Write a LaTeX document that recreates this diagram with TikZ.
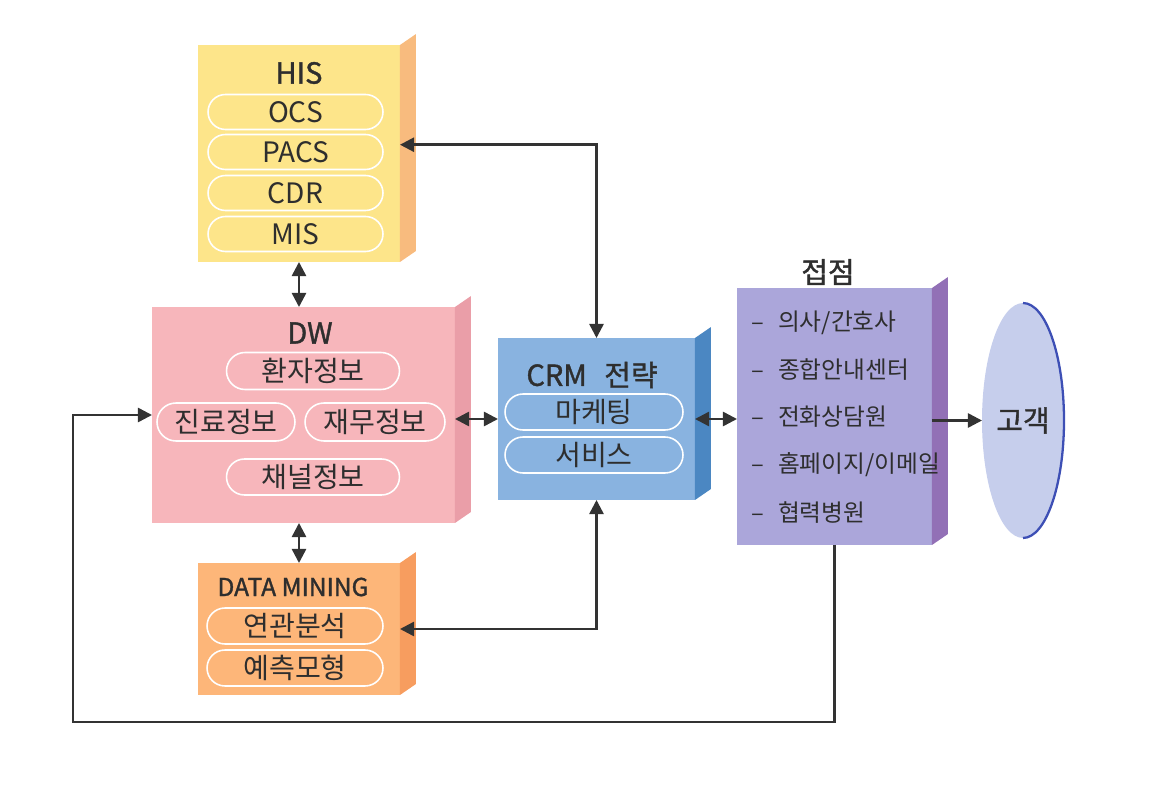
\documentclass[tikz,border=0pt]{standalone}
\usepackage{fontspec}
\setmainfont{Noto Sans CJK KR}
\newfontfamily\titlefont[FakeBold=1.3]{Noto Sans CJK KR}
\usetikzlibrary{arrows.meta,positioning,shapes.misc,shapes.geometric}
\definecolor{txt}{HTML}{2E2E2E}
\definecolor{linkgray}{HTML}{333333}
\definecolor{hisfront}{HTML}{FDE58A}
\definecolor{hisside}{HTML}{F8BB7E}
\definecolor{dwfront}{HTML}{F7B6BB}
\definecolor{dwside}{HTML}{EA9EA8}
\definecolor{dmfront}{HTML}{FDB679}
\definecolor{dmside}{HTML}{F79D5F}
\definecolor{crmfront}{HTML}{89B3E0}
\definecolor{crmside}{HTML}{4B87C2}
\definecolor{ctfront}{HTML}{ABA6DA}
\definecolor{ctside}{HTML}{9270B6}
\definecolor{custfill}{HTML}{C6CEEC}
\definecolor{custrim}{HTML}{3D4FB5}
\newcommand{\sideface}[2]{%
  \fill[#2] (#1.north east) -- ++(16,-11) -- ([shift={(16,-11)}]#1.south east) -- (#1.south east) -- cycle;}
\begin{document}
\begin{tikzpicture}[x=0.02cm,y=-0.02cm,
  every node/.style={text=txt, font=\fontsize{16}{18}\selectfont},
  block/.style={inner sep=0, outer sep=0},
  pill/.style={rounded rectangle, draw=white, line width=0.9pt, minimum height=0.7cm, inner sep=0},
  title/.style={font=\titlefont\fontsize{16.5}{19}\selectfont},
  item/.style={anchor=west, font=\fontsize{13.5}{16}\selectfont},
  link/.style={draw=linkgray, line width=1.4pt},
  both/.style={link, {Triangle[length=8pt,width=8pt]}-{Triangle[length=8pt,width=8pt]}},
  onearrow/.style={link, -{Triangle[length=8pt,width=8pt]}}]
\useasboundingbox (0,0) rectangle (1158,786);

\node[block, fill=hisfront, minimum width=4.04cm, minimum height=4.34cm] (his) at (299,153.5) {};
\node[block, fill=dwfront, minimum width=6.06cm, minimum height=4.32cm] (dw) at (303.5,415) {};
\node[block, fill=dmfront, minimum width=4.04cm, minimum height=2.64cm] (dm) at (299,629) {};
\node[block, fill=crmfront, minimum width=3.94cm, minimum height=3.24cm] (crm) at (596.5,419) {};
\node[block, fill=ctfront, minimum width=3.9cm, minimum height=5.14cm] (contact) at (834.5,416.5) {};
\sideface{his}{hisside}
\sideface{dw}{dwside}
\sideface{dm}{dmside}
\sideface{crm}{crmside}
\sideface{contact}{ctside}
\node[ellipse, fill=custfill, inner sep=0, outer sep=0, minimum width=1.64cm, minimum height=4.7cm] (cust) at (1023,420.5) {};
\draw[custrim, line width=1.3pt] (cust.north) arc[start angle=90, end angle=-90, x radius=0.82cm, y radius=2.35cm];
\node[title] (custlabel) at (cust.center) {고객};

\node[title] (histitle) at (299,73) {HIS};
\node[pill, minimum width=3.5cm] (ocs) at (295.5,112) {OCS};
\node[pill, minimum width=3.5cm] (pacs) at (295.5,152) {PACS};
\node[pill, minimum width=3.5cm] (cdr) at (295.5,193) {CDR};
\node[pill, minimum width=3.5cm] (mis) at (295.5,234) {MIS};

\node[title] (dwtitle) at (310,333) {DW};
\node[pill, minimum width=3.46cm, minimum height=0.74cm] (patient) at (313,371) {환자정보};
\node[pill, minimum width=2.76cm, minimum height=0.76cm] (care) at (226,422) {진료정보};
\node[pill, minimum width=2.8cm, minimum height=0.76cm] (finance) at (375,422) {재무정보};
\node[pill, minimum width=3.46cm, minimum height=0.72cm] (channel) at (313,477) {채널정보};

\node[title, font=\titlefont\fontsize{14}{17}\selectfont] (dmtitle) at (293,587) {DATA MINING};
\node[pill, minimum width=3.52cm, minimum height=0.72cm] (assoc) at (295,626) {연관분석};
\node[pill, minimum width=3.52cm, minimum height=0.72cm] (predict) at (295,668) {예측모형};

\node[title] (crmtitle) at (592,375) {CRM\hspace{0.6em}전략};
\node[pill, minimum width=3.56cm, minimum height=0.72cm] (marketing) at (594,412) {마케팅};
\node[pill, minimum width=3.56cm, minimum height=0.72cm] (service) at (594,455) {서비스};

\node[title] (cttitle) at (828,272) {접점};
\node[item] (c1) at (745,323) {–\hspace{0.6em}의사/간호사};
\node[item] (c2) at (745,370) {–\hspace{0.6em}종합안내센터};
\node[item] (c3) at (745,417) {–\hspace{0.6em}전화상담원};
\node[item] (c4) at (745,465) {–\hspace{0.6em}홈페이지/이메일};
\node[item] (c5) at (745,513) {–\hspace{0.6em}협력병원};

\coordinate (loop) at (73,722);
\draw[both] (his.south) -- (his.south |- dw.north);
\draw[both] (dm.north |- dw.south) -- (dm.north);
\draw[both] (crm.north) |- ([yshift=5pt]his.east);
\draw[both] (crm.south) |- (dm.east);
\draw[both] (crm.west -| dw.east) -- (crm.west);
\draw[both] (crm.east) -- (crm.east -| contact.west);
\draw[onearrow] (contact.east |- cust.west) -- (cust.west);
\draw[onearrow] (contact.south) |- (loop) |- (dw.west);
\end{tikzpicture}
\end{document}
